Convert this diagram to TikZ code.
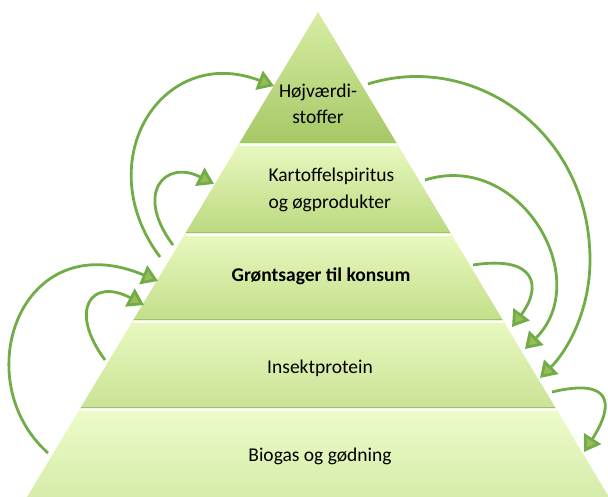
\documentclass[tikz,border=0pt]{standalone}
\usepackage{fontspec}
\setmainfont{Carlito}
\usetikzlibrary{arrows.meta}
\definecolor{arcgreen}{RGB}{112,173,71}
\definecolor{headgreen}{RGB}{155,187,89}
\definecolor{edgegreen}{RGB}{160,190,120}
\tikzstyle{arrow} = [line width=2.8pt, draw=arcgreen, -{Triangle[length=16pt,width=20pt,fill=headgreen]}]
\tikzstyle{layertext} = [font=\fontsize{19.5}{26.5}\selectfont, text=black, align=center]
\tikzstyle{shine} = [white, line width=2pt]
\tikzstyle{shadow} = [edgegreen, line width=1pt]

\begin{document}
\begin{tikzpicture}[x=1pt,y=-1pt]
        \useasboundingbox (0,0) rectangle (608,497);
        % layers of the pyramid
        \shade[top color={rgb,255:red,216;green,237;blue,164}, bottom color={rgb,255:red,166;green,200;blue,102}] (318,12) -- (396.6,143) -- (239.4,143) -- cycle;
        \shade[top color={rgb,255:red,233;green,249;blue,192}, bottom color={rgb,255:red,188;green,217;blue,128}] (239.4,143) -- (396.6,143) -- (450.6,233) -- (185.4,233) -- cycle;
        \shade[top color={rgb,255:red,233;green,249;blue,192}, bottom color={rgb,255:red,195;green,223;blue,138}] (185.4,233) -- (450.6,233) -- (502.8,320) -- (133.2,320) -- cycle;
        \shade[top color={rgb,255:red,232;green,249;blue,192}, bottom color={rgb,255:red,202;green,227;blue,150}] (133.2,320) -- (502.8,320) -- (555.6,408) -- (80.4,408) -- cycle;
        \shade[top color={rgb,255:red,237;green,252;blue,202}, bottom color={rgb,255:red,214;green,236;blue,170}] (80.4,408) -- (555.6,408) -- (609,497) -- (27,497) -- cycle;
        \draw[shadow] (240,142.5) -- (396,142.5);
        \draw[shadow] (186,232.5) -- (450,232.5);
        \draw[shadow] (134,319.5) -- (502,319.5);
        \draw[shadow] (81,407.5) -- (555,407.5);
        \draw[shine] (240,145) -- (397,145);
        \draw[shine] (186,235) -- (451,235);
        \draw[shine] (134,322) -- (503,322);
        \draw[shine] (81,410) -- (556,410);

        \node[layertext] (hoj) at (318,104) {Højværdi-\\stoffer};
        \node[layertext, align=left, anchor=west] (kart) at (265,190) {Kartoffelspiritus\\og øgprodukter};
        \node[layertext, font=\fontsize{19.5}{26.5}\selectfont\bfseries] (gron) at (321,276) {Grøntsager til konsum};
        \node[layertext] (insekt) at (320,368) {Insektprotein};
        \node[layertext] (biogas) at (320,456) {Biogas og gødning};

        % arrow ends
        \coordinate (l1s) at (160,257);
        \coordinate (l1e) at (274,86);
        \coordinate (l2s) at (173,245);
        \coordinate (l2e) at (214,184);
        \coordinate (l3s) at (48,453);
        \coordinate (l3e) at (158,281);
        \coordinate (l4s) at (105,360);
        \coordinate (l4e) at (144,305);
        \coordinate (r1s) at (368,84);
        \coordinate (r1m) at (590,260);
        \coordinate (r1e) at (540,378);
        \coordinate (r2s) at (425,180);
        \coordinate (r2e) at (525,349);
        \coordinate (r3s) at (473,265);
        \coordinate (r3e) at (512,327);
        \coordinate (r4s) at (552,392);
        \coordinate (r4e) at (584,452);

        \draw[arrow] (l1s) .. controls +(-72,-96) and +(-112,-43) .. (l1e);
        \draw[arrow] (l2s) .. controls +(-39,-52) and +(-49,-25) .. (l2e);
        \draw[arrow] (l3s) .. controls +(-82,-73) and +(-138,-58) .. (l3e);
        \draw[arrow] (l4s) .. controls +(-37,-50) and +(-53,-28) .. (l4e);
        \draw[arrow] (r1s) .. controls +(104,-33) and +(0,-130) .. (r1m) .. controls +(0,50) and +(28,-28) .. (r1e);
        \draw[arrow] (r2s) .. controls +(95,-30) and +(70,-70) .. (r2e);
        \draw[arrow] (r3s) .. controls +(64,-10) and +(30,-40) .. (r3e);
        \draw[arrow] (r4s) .. controls +(58,-14) and +(32,-50) .. (r4e);
    \end{tikzpicture}
\end{document}
